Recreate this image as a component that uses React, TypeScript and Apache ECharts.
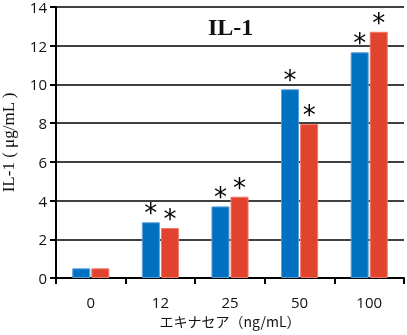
import React, { useEffect, useRef } from "react";
import * as echarts from "echarts";

const categories = ["0", "12", "25", "50", "100"];
const seriesA = [0.5, 2.88, 3.7, 9.75, 11.66];
const seriesB = [0.5, 2.58, 4.2, 7.95, 12.72];
const starA = [false, true, true, true, true];
const starB = [false, true, true, true, true];
const yTicks = { min: 0, max: 14, interval: 2 };

export default function App() {
  const ref = useRef<HTMLDivElement>(null);
  useEffect(() => {
    document.body.style.margin = "0";
    const chart = echarts.init(ref.current!, null, { renderer: "svg" });
    const mk = (vals: number[], stars: boolean[]) =>
      vals.map((v, i) => ({ value: v, label: { show: stars[i] } }));
    const starLabel = {
      position: "top",
      formatter: "*",
      fontSize: 26,
      fontFamily: "DejaVu Sans",
      color: "#000",
      distance: -4,
    };
    chart.setOption({
      animation: false,
      title: {
        text: "IL-1",
        left: 203,
        top: 10,
        textStyle: { fontFamily: "Liberation Serif", fontWeight: "bold", fontSize: 24, color: "#111" },
      },
      grid: { left: 56, right: 3, top: 7, bottom: 57, outerBoundsMode: "none", containLabel: false },
      xAxis: {
        type: "category",
        data: categories,
        name: "エキナセア（ng/mL）",
        nameLocation: "middle",
        nameGap: 36,
        nameTextStyle: { fontFamily: "Noto Sans CJK JP", fontSize: 14, color: "#111" },
        axisLine: { lineStyle: { color: "#000", width: 2 } },
        axisTick: { show: true, length: 6, lineStyle: { color: "#000", width: 2 } },
        axisLabel: { fontFamily: "Open Sans", fontSize: 15, color: "#111", margin: 16 },
      },
      yAxis: {
        type: "value",
        ...yTicks,
        name: "IL-1 ( μg/mL )",
        nameLocation: "middle",
        nameGap: 39,
        nameTextStyle: { fontFamily: "Liberation Serif", fontSize: 17, color: "#111" },
        axisLine: { show: true, lineStyle: { color: "#000", width: 2 } },
        axisTick: { show: true, length: 6, lineStyle: { color: "#000", width: 2 } },
        axisLabel: { fontFamily: "Open Sans", fontSize: 15, color: "#111", margin: 9 },
        splitLine: { lineStyle: { color: "#000", width: 1.5 } },
      },
      series: [
        {
          type: "bar",
          data: mk(seriesA, starA),
          barWidth: 18,
          barGap: "6%",
          itemStyle: { color: "#0070c0", borderColor: "#5a9fdc", borderWidth: 1 },
          label: starLabel,
        },
        {
          type: "bar",
          data: mk(seriesB, starB),
          barWidth: 18,
          itemStyle: { color: "#e0432e", borderColor: "#f07a66", borderWidth: 1 },
          label: starLabel,
        },
      ],
    });
    return () => chart.dispose();
  }, []);
  return <div ref={ref} style={{ position: "fixed", left: 0, top: 0, width: 407, height: 335 }} />;
}
